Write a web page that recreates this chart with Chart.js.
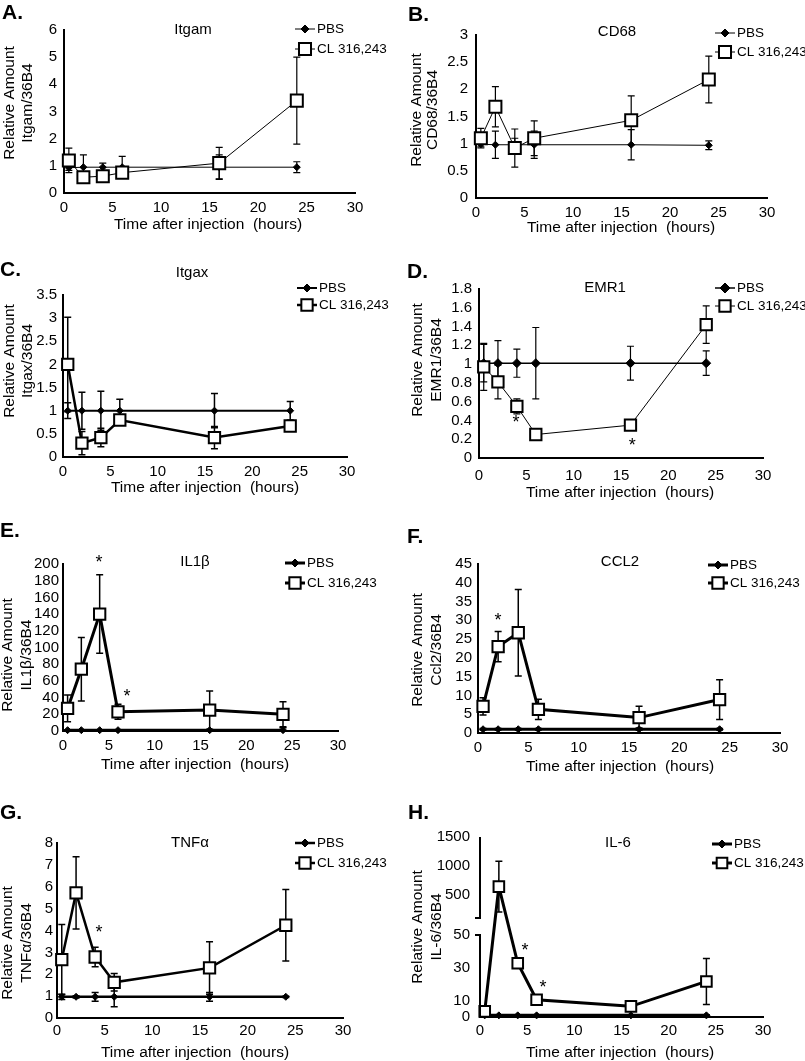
<!DOCTYPE html>
<html><head><meta charset="utf-8">
<script src="https://cdn.jsdelivr.net/npm/chart.js@4.4.1/dist/chart.umd.min.js"></script>
<style>
html,body{margin:0;padding:0;background:#fff;}
#wrap{position:relative;width:805px;height:1061px;overflow:hidden;background:#fff;}
#wrap canvas{position:absolute;}
</style></head><body><div id="wrap"></div>
<script>
// ---------- data ----------
const hours = [0.5, 2, 4, 6, 16, 24];
const xTicks = [0, 5, 10, 15, 20, 25, 30];
const seriesNames = ['PBS', 'CL 316,243'];

const itgamTicks = [0, 1, 2, 3, 4, 5, 6];
const itgamPBS = [0.93, 0.95, 0.95, 0.95, 0.95, 0.95];
const itgamPBSErr = [0.1, 0.45, 0.15, 0.4, 0.45, 0.2];
const itgamCL = [1.2, 0.58, 0.62, 0.75, 1.1, 3.4];
const itgamCLErr = [0.45, 0.15, 0.1, 0.15, 0.58, 1.6];

const cd68Ticks = [0, 0.5, 1, 1.5, 2, 2.5, 3];
const cd68PBS = [0.99, 0.98, 0.98, 0.98, 0.98, 0.97];
const cd68PBSErr = [0.05, 0.25, 0.12, 0.25, 0.28, 0.08];
const cd68CL = [1.1, 1.68, 0.92, 1.1, 1.43, 2.18];
const cd68CLErr = [0.18, 0.37, 0.35, 0.32, 0.45, 0.43];

const itgaxTicks = [0, 0.5, 1, 1.5, 2, 2.5, 3, 3.5];
const itgaxPBS = [1, 1, 1, 1, 1, 1];
const itgaxPBSErr = [0.17, 0.4, 0.42, 0.25, 0.37, 0.2];
const itgaxCL = [2.0, 0.3, 0.42, 0.8, 0.42, 0.67];
const itgaxCLErr = [1.02, 0.25, 0.2, 0.08, 0.24, 0.05];

const emr1Ticks = [0, 0.2, 0.4, 0.6, 0.8, 1, 1.2, 1.4, 1.6, 1.8];
const emr1PBS = [1.01, 1.01, 1.01, 1.01, 1.01, 1.01];
const emr1PBSErr = [0.2, 0.24, 0.15, 0.38, 0.18, 0.13];
const emr1CL = [0.97, 0.81, 0.55, 0.25, 0.35, 1.42];
const emr1CLErr = [0.25, 0.18, 0.08, 0.05, 0.05, 0.2];
const emr1Stars = [[3.9, 0.43], [16.2, 0.19]];

const il1bTicks = [0, 20, 40, 60, 80, 100, 120, 140, 160, 180, 200];
const il1bPBS = [1, 1, 1, 1, 1, 1];
const il1bPBSErr = [0.5, 0.5, 0.5, 0.5, 0.5, 3];
const il1bCL = [27, 74, 140, 23, 25, 20];
const il1bCLErr = [16, 38, 47, 9, 23, 15];
const il1bStars = [[3.93, 208], [6.98, 47]];

const ccl2Ticks = [0, 5, 10, 15, 20, 25, 30, 35, 40, 45];
const ccl2PBS = [1, 1, 1, 1, 1, 1];
const ccl2PBSErr = [0.2, 0.2, 0.2, 0.2, 0.3, 0.2];
const ccl2CL = [7.1, 23, 26.7, 6.3, 4.1, 8.9];
const ccl2CLErr = [2.3, 4, 11.5, 2.7, 3, 5.3];
const ccl2Stars = [[1.99, 31.2]];

const tnfaTicks = [0, 1, 2, 3, 4, 5, 6, 7, 8];
const tnfaPBS = [0.97, 0.97, 0.97, 0.97, 0.97, 0.97];
const tnfaPBSErr = [0.12, 0.05, 0.2, 0.45, 0.2, 0.03];
const tnfaCL = [2.67, 5.72, 2.79, 1.63, 2.29, 4.24];
const tnfaCLErr = [1.6, 1.65, 0.45, 0.4, 1.2, 1.63];
const tnfaStars = [[4.4, 4.16]];

const il6Ticks = [0, 10, 30, 50, 500, 1000, 1500];
const il6PBS = [1, 1, 1, 1, 1, 1];
const il6PBSErr = [0.3, 0.3, 0.3, 0.3, 0.3, 0.3];
const il6CL = [3.4, 643, 32.8, 10.5, 6.5, 21.7];
const il6CLErr = [1, 440, 2, 1.5, 1, 14];
const il6Stars = [[4.77, 43.9], [6.68, 21.3]];

// ---------- broken axis scale for IL-6 ----------
const BRK_LOW = 50, BRK_HIGH = 100, BRK_GAP = 10.4, BRK_K = 0.0353;
function brkT(v) {
  if (v <= BRK_LOW) return v;
  if (v <= BRK_HIGH) return BRK_LOW + (v - BRK_LOW) / (BRK_HIGH - BRK_LOW) * BRK_GAP;
  return BRK_LOW + BRK_GAP + (v - BRK_HIGH) * BRK_K;
}
function brkInv(t) {
  if (t <= BRK_LOW) return t;
  if (t <= BRK_LOW + BRK_GAP) return BRK_LOW + (t - BRK_LOW) / BRK_GAP * (BRK_HIGH - BRK_LOW);
  return BRK_HIGH + (t - BRK_LOW - BRK_GAP) / BRK_K;
}
class BrokenLinearScale extends Chart.LinearScale {
  static id = 'brokenLinear';
  static defaults = Chart.LinearScale.defaults;
  getPixelForValue(value) {
    if (value === null || value === undefined) return NaN;
    return this.getPixelForDecimal(brkT(value) / brkT(this.max));
  }
  getValueForPixel(pixel) {
    return brkInv(this.getDecimalForPixel(pixel) * brkT(this.max));
  }
}
Chart.register(BrokenLinearScale);

// ---------- drawing helpers ----------
const FONT = "'Liberation Sans', Arial, sans-serif";
function drawMarker(ctx, style, x, y, r, bw, fill) {
  ctx.save();
  ctx.fillStyle = fill; ctx.strokeStyle = '#000';
  ctx.beginPath();
  if (style === 'rect') {
    const s = r * Math.SQRT1_2;
    ctx.rect(x - s, y - s, 2 * s, 2 * s);
  } else {
    ctx.moveTo(x, y - r); ctx.lineTo(x + r, y); ctx.lineTo(x, y + r); ctx.lineTo(x - r, y); ctx.closePath();
  }
  ctx.fill();
  if (bw > 0) { ctx.lineWidth = bw; ctx.stroke(); }
  ctx.restore();
}

function makeDeco(p) {
  return {
    id: 'deco' + p.key,
    beforeDatasetDraw(chart, args) {
      const ds = chart.data.datasets[args.index];
      const err = ds.errValues;
      if (!err) return;
      const ctx = chart.ctx, xs = chart.scales.x, ys = chart.scales.y;
      const cap = 3.5;
      ctx.save();
      ctx.strokeStyle = '#000';
      ctx.lineWidth = p.errLW;
      ds.data.forEach((pt, i) => {
        const e = err[i];
        if (!e) return;
        const px = xs.getPixelForValue(pt.x);
        const top = ys.getPixelForValue(Math.min(pt.y + e, ys.max));
        const bot = ys.getPixelForValue(Math.max(pt.y - e, ys.min));
        ctx.beginPath();
        ctx.moveTo(px, top); ctx.lineTo(px, bot);
        ctx.moveTo(px - cap, top); ctx.lineTo(px + cap, top);
        ctx.moveTo(px - cap, bot); ctx.lineTo(px + cap, bot);
        ctx.stroke();
      });
      ctx.restore();
    },
    afterDraw(chart) {
      const ctx = chart.ctx, xs = chart.scales.x, ys = chart.scales.y;
      ctx.save();
      ctx.fillStyle = '#000';
      // broken y axis line
      if (p.broken) {
        const x0 = chart.chartArea.left;
        ctx.strokeStyle = '#000'; ctx.lineWidth = 2;
        ctx.beginPath();
        ctx.moveTo(x0, ys.getPixelForValue(0) + 1); ctx.lineTo(x0, ys.getPixelForValue(BRK_LOW));
        ctx.lineTo(x0 - 5, ys.getPixelForValue(BRK_LOW));
        ctx.moveTo(x0 - 5, ys.getPixelForValue(BRK_HIGH)); ctx.lineTo(x0, ys.getPixelForValue(BRK_HIGH));
        ctx.lineTo(x0, ys.getPixelForValue(ys.max));
        ctx.stroke();
      }
      // panel letter
      ctx.font = 'bold 21px ' + FONT;
      ctx.textAlign = 'left'; ctx.textBaseline = 'middle';
      ctx.fillText(p.letter, p.letterPos[0], p.letterPos[1]);
      // panel title
      ctx.font = '15px ' + FONT;
      ctx.textAlign = 'center';
      ctx.fillText(p.title, p.titlePos[0], p.titlePos[1]);
      // x title
      ctx.font = '15.5px ' + FONT;
      ctx.fillText('Time after injection  (hours)', p.xTitlePos[0], p.xTitlePos[1]);
      // y title
      const yLines = ['Relative Amount', p.yLabel];
      yLines.forEach((t, i) => {
        ctx.save();
        ctx.translate(p.yTitleX[i], p.yTitleY);
        ctx.rotate(-Math.PI / 2);
        ctx.fillText(t, 0, 0);
        ctx.restore();
      });
      // legend
      const lx = p.legend.x;
      const styles = [
        {lw: p.pbsLW, style: 'diamond', r: p.pbsR + 0.5, bw: 1, fill: '#000'},
        {lw: p.clLW, style: 'rect', r: p.clR, bw: 2, fill: '#fff'}
      ];
      ctx.font = '13.5px ' + FONT;
      ctx.textAlign = 'left';
      styles.forEach((s, i) => {
        const ry = p.legend.rows[i];
        ctx.strokeStyle = '#000'; ctx.lineWidth = s.lw;
        ctx.beginPath(); ctx.moveTo(lx, ry); ctx.lineTo(lx + 20, ry); ctx.stroke();
        drawMarker(ctx, s.style, lx + 10, ry, s.r, s.bw, s.fill);
        ctx.fillStyle = '#000';
        ctx.fillText(seriesNames[i], lx + 22, ry);
      });
      // significance asterisks
      ctx.font = '18px ' + FONT;
      ctx.textAlign = 'center'; ctx.textBaseline = 'alphabetic';
      (p.stars || []).forEach(s => {
        ctx.fillText('*', xs.getPixelForValue(s[0]), ys.getPixelForValue(s[1]) + 10.5);
      });
      ctx.restore();
    }
  };
}

const panels = [
  {key: 'A', letter: 'A.', title: 'Itgam', yLabel: 'Itgam/36B4', ox: 0, oy: 0, w: 400, h: 255,
   plot: {l: 64, r: 355, t: 30, b: 193}, yMax: 6, yTicks: itgamTicks,
   pbs: itgamPBS, pbsErr: itgamPBSErr, cl: itgamCL, clErr: itgamCLErr,
   pbsLW: 1, clLW: 1, pbsR: 3.5, clR: 8.5, errLW: 1.2, xPad: 6, yPad: 7,
   letterPos: [2, 13], titlePos: [193, 30], yTitleX: [10, 28], yTitleY: 103, xTitlePos: [208, 225],
   legend: {x: 295, rows: [29, 49]}, stars: []},
  {key: 'B', letter: 'B.', title: 'CD68', yLabel: 'CD68/36B4', ox: 400, oy: 0, w: 405, h: 255,
   plot: {l: 76, r: 367, t: 35, b: 198}, yMax: 3, yTicks: cd68Ticks,
   pbs: cd68PBS, pbsErr: cd68PBSErr, cl: cd68CL, clErr: cd68CLErr,
   pbsLW: 1, clLW: 1, pbsR: 3.5, clR: 8.5, errLW: 1.2, xPad: 6, yPad: 8,
   letterPos: [8, 15], titlePos: [217, 32], yTitleX: [17, 33], yTitleY: 110, xTitlePos: [221, 228],
   legend: {x: 315, rows: [33, 52]}, stars: []},
  {key: 'C', letter: 'C.', title: 'Itgax', yLabel: 'Itgax/36B4', ox: 0, oy: 255, w: 400, h: 255,
   plot: {l: 63, r: 347, t: 40, b: 202}, yMax: 3.5, yTicks: itgaxTicks,
   pbs: itgaxPBS, pbsErr: itgaxPBSErr, cl: itgaxCL, clErr: itgaxCLErr,
   pbsLW: 2, clLW: 2.5, pbsR: 3.5, clR: 8, errLW: 1.5, xPad: 6, yPad: 6,
   letterPos: [0, 15], titlePos: [192, 18], yTitleX: [10, 28], yTitleY: 106, xTitlePos: [205, 233],
   legend: {x: 297, rows: [33, 50]}, stars: []},
  {key: 'D', letter: 'D.', title: 'EMR1', yLabel: 'EMR1/36B4', ox: 400, oy: 255, w: 405, h: 255,
   plot: {l: 79, r: 363, t: 34, b: 203}, yMax: 1.8, yTicks: emr1Ticks,
   pbs: emr1PBS, pbsErr: emr1PBSErr, cl: emr1CL, clErr: emr1CLErr,
   pbsLW: 1.5, clLW: 1, pbsR: 4.5, clR: 8, errLW: 1.2, xPad: 8.5, yPad: 7,
   letterPos: [7, 17], titlePos: [205, 33], yTitleX: [18, 37], yTitleY: 105, xTitlePos: [220, 238],
   legend: {x: 315, rows: [33, 51]}, stars: emr1Stars},
  {key: 'E', letter: 'E.', title: 'IL1\u03b2', yLabel: 'IL1\u03b2/36B4', ox: 0, oy: 510, w: 400, h: 270,
   plot: {l: 63, r: 338, t: 54, b: 221}, yMax: 200, yTicks: il1bTicks,
   pbs: il1bPBS, pbsErr: il1bPBSErr, cl: il1bCL, clErr: il1bCLErr,
   pbsLW: 3, clLW: 3, pbsR: 3.5, clR: 8, errLW: 1.5, xPad: 6, yPad: 4,
   letterPos: [0, 21], titlePos: [195, 52], yTitleX: [8, 27], yTitleY: 145, xTitlePos: [195, 255],
   legend: {x: 285, rows: [53, 73]}, stars: il1bStars},
  {key: 'F', letter: 'F.', title: 'CCL2', yLabel: 'Ccl2/36B4', ox: 400, oy: 510, w: 405, h: 270,
   plot: {l: 78, r: 380, t: 54, b: 223}, yMax: 45, yTicks: ccl2Ticks,
   pbs: ccl2PBS, pbsErr: ccl2PBSErr, cl: ccl2CL, clErr: ccl2CLErr,
   pbsLW: 3, clLW: 3, pbsR: 3.5, clR: 8, errLW: 1.5, xPad: 6, yPad: 6,
   letterPos: [7, 27], titlePos: [220, 52], yTitleX: [18, 37], yTitleY: 140, xTitlePos: [220, 257],
   legend: {x: 308, rows: [55, 73]}, stars: ccl2Stars},
  {key: 'G', letter: 'G.', title: 'TNF\u03b1', yLabel: 'TNF\u03b1/36B4', ox: 0, oy: 780, w: 400, h: 281,
   plot: {l: 57, r: 343, t: 63, b: 238}, yMax: 8, yTicks: tnfaTicks,
   pbs: tnfaPBS, pbsErr: tnfaPBSErr, cl: tnfaCL, clErr: tnfaCLErr,
   pbsLW: 2.5, clLW: 2.5, pbsR: 3.5, clR: 8, errLW: 1.5, xPad: 4, yPad: 4,
   letterPos: [0, 33], titlePos: [190, 63], yTitleX: [8, 27], yTitleY: 163, xTitlePos: [195, 273],
   legend: {x: 295, rows: [63, 83]}, stars: tnfaStars},
  {key: 'H', letter: 'H.', title: 'IL-6', yLabel: 'IL-6/36B4', ox: 400, oy: 780, w: 405, h: 281,
   plot: {l: 80, r: 363, t: 57, b: 237}, yMax: 1500, yTicks: il6Ticks, yType: 'brokenLinear', broken: true,
   pbs: il6PBS, pbsErr: il6PBSErr, cl: il6CL, clErr: il6CLErr,
   pbsLW: 3, clLW: 3, pbsR: 3.5, clR: 7.5, errLW: 1.5, xPad: 5, yPad: 10,
   letterPos: [8, 33], titlePos: [218, 63], yTitleX: [18, 37], yTitleY: 147, xTitlePos: [220, 273],
   legend: {x: 312, rows: [64, 83]}, stars: il6Stars}
];

const wrap = document.getElementById('wrap');
const tickFont = {family: FONT, size: 15};

panels.forEach(p => {
  const canvas = document.createElement('canvas');
  canvas.width = p.w; canvas.height = p.h;
  canvas.style.left = p.ox + 'px'; canvas.style.top = p.oy + 'px';
  canvas.style.width = p.w + 'px'; canvas.style.height = p.h + 'px';
  wrap.appendChild(canvas);
  new Chart(canvas, {
    type: 'line',
    data: {
      datasets: [
        {label: seriesNames[0], data: hours.map((h, i) => ({x: h, y: p.pbs[i]})), errValues: p.pbsErr,
         borderColor: '#000', backgroundColor: '#000', borderWidth: p.pbsLW, tension: 0,
         pointStyle: 'rectRot', pointRadius: p.pbsR, pointBorderWidth: 1,
         pointBackgroundColor: '#000', pointBorderColor: '#000', order: 2, clip: false},
        {label: seriesNames[1], data: hours.map((h, i) => ({x: h, y: p.cl[i]})), errValues: p.clErr,
         borderColor: '#000', backgroundColor: '#fff', borderWidth: p.clLW, tension: 0,
         pointStyle: 'rect', pointRadius: p.clR, pointBorderWidth: 2,
         pointBackgroundColor: '#fff', pointBorderColor: '#000', order: 1, clip: false}
      ]
    },
    options: {
      responsive: false, animation: false, devicePixelRatio: 1, events: [],
      layout: {padding: {left: 0, top: p.plot.t, right: p.w - p.plot.r, bottom: 0}},
      plugins: {legend: {display: false}, title: {display: false}, tooltip: {enabled: false}},
      scales: {
        x: {
          type: 'linear', min: 0, max: 30,
          afterFit: s => { s.height = p.h - p.plot.b; },
          afterBuildTicks: s => { s.ticks = xTicks.map(v => ({value: v})); },
          grid: {display: false, drawTicks: false},
          border: {display: true, color: '#000', width: 2},
          ticks: {autoSkip: false, maxRotation: 0, padding: p.xPad, color: '#000', font: tickFont,
                  callback: v => String(v)}
        },
        y: {
          type: p.yType || 'linear', min: 0, max: p.yMax,
          afterFit: s => { s.width = p.plot.l; },
          afterBuildTicks: s => { s.ticks = p.yTicks.map(v => ({value: v})); },
          grid: {display: false, drawTicks: false},
          border: {display: !p.broken, color: '#000', width: 2},
          ticks: {autoSkip: false, padding: p.yPad, color: '#000', font: tickFont,
                  callback: v => String(Math.round(v * 100) / 100)}
        }
      }
    },
    plugins: [makeDeco(p)]
  });
});
</script>
</body></html>
